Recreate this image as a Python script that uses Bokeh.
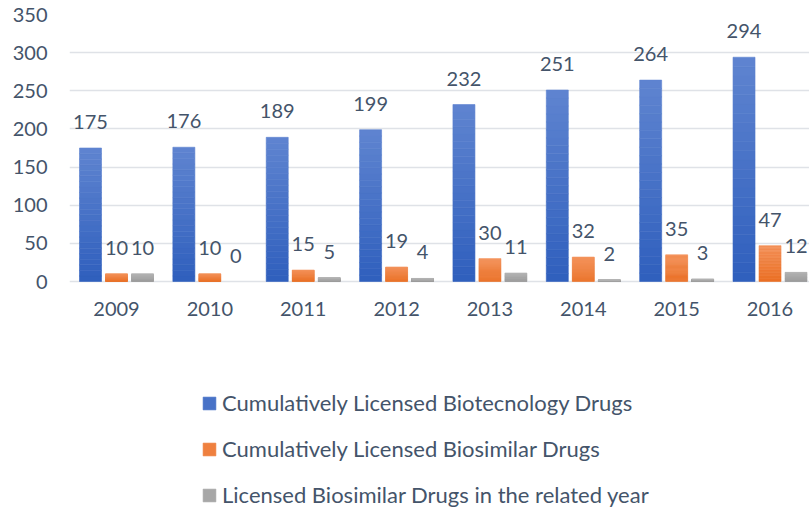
from bokeh.plotting import figure
from bokeh.models import Range1d, ColumnDataSource, Legend, LegendItem, FixedTicker
from bokeh.embed import file_html
from bokeh.resources import INLINE

years = ["2009", "2010", "2011", "2012", "2013", "2014", "2015", "2016"]
biotech_cum = [175, 176, 189, 199, 232, 251, 264, 294]
biosimilar_cum = [10, 10, 15, 19, 30, 32, 35, 47]
biosimilar_year = [10, 0, 5, 4, 11, 2, 3, 12]
series_names = [
    "Cumulatively Licensed Biotecnology Drugs",
    "Cumulatively Licensed Biosimilar Drugs",
    "Licensed Biosimilar Drugs in the related year",
]
y_ticks = [0, 50, 100, 150, 200, 250, 300, 350]

# style
FONT = "Lato"
FS = "20px"
LFS = "22px"
TXT = "#44546A"
# (bottom colour, top colour) for a vertical gradient
grads = [("#2F5FBD", "#5F84D0"), ("#EA6F24", "#F39057"), ("#9C9C9C", "#B2B2B2")]
PX = 93.36                     # pixels per category
offsets = [-26 / PX, 0.0, 26 / PX]
bar_w = 22 / PX
N_SEG = 24
X0 = -47 / PX
UNIT = 350 / 267               # data units per pixel
Y0 = -228 * UNIT               # frame continues below the zero line to hold the legend


def hex2rgb(h):
    h = h.lstrip("#")
    return tuple(int(h[i:i + 2], 16) for i in (0, 2, 4))


def mix(c0, c1, t):
    a, b = hex2rgb(c0), hex2rgb(c1)
    return "#%02x%02x%02x" % tuple(round(a[k] + (b[k] - a[k]) * t) for k in range(3))


p = figure(frame_width=740, frame_height=495, output_backend="svg", toolbar_location=None,
           x_range=Range1d(X0, X0 + 740 / PX), y_range=Range1d(Y0, 350),
           min_border_left=69, min_border_right=0, min_border_top=14, min_border_bottom=0)
p.outline_line_color = None
p.background_fill_color = "white"

series = [biotech_cum, biosimilar_cum, biosimilar_year]
renderers = []
for s, vals in enumerate(series):
    xs, bots, tops, cols = [], [], [], []
    for i, v in enumerate(vals):
        if v <= 0:
            continue
        for k in range(N_SEG):
            xs.append(i + offsets[s])
            bots.append(v * k / N_SEG)
            tops.append(v * (k + 1) / N_SEG)
            cols.append(mix(grads[s][0], grads[s][1], (k + 0.5) / N_SEG))
    src = ColumnDataSource(dict(x=xs, bottom=bots, top=tops, color=cols))
    r = p.vbar(x="x", bottom="bottom", top="top", width=bar_w, source=src,
               fill_color="color", line_color="color", line_width=0.6)
    renderers.append(r)
    lab = ColumnDataSource(dict(x=[i + offsets[s] for i in range(len(vals))], y=vals,
                                t=[str(v) for v in vals]))
    p.text(x="x", y="y", text="t", source=lab, text_align="center", text_baseline="alphabetic",
           y_offset=-26, text_font_size=FS, text_color=TXT, text_font={"value": FONT})

p.xgrid.grid_line_color = None
p.ygrid.grid_line_color = "#DFE2E7"
p.ygrid.grid_line_width = 1.6
p.ygrid.ticker = FixedTicker(ticks=y_ticks)

p.yaxis.ticker = FixedTicker(ticks=y_ticks)
p.xaxis.ticker = FixedTicker(ticks=list(range(len(years))))
p.xaxis.major_label_overrides = {i: y for i, y in enumerate(years)}
p.xaxis.fixed_location = 0
for ax in (p.xaxis[0], p.yaxis[0]):
    ax.axis_line_color = None
    ax.major_tick_line_color = None
    ax.minor_tick_line_color = None
    ax.major_tick_in = 0
    ax.major_tick_out = 0
    ax.minor_tick_out = 0
    ax.major_label_text_font = FONT
    ax.major_label_text_font_size = FS
    ax.major_label_text_color = TXT
p.yaxis.major_label_standoff = 22
p.xaxis.major_label_standoff = 20

mid = N_SEG // 2
items = [LegendItem(label=series_names[s], renderers=[renderers[s]], index=mid) for s in range(3)]
legend = Legend(items=items, location=(132, 1), orientation="vertical",
                border_line_color=None, background_fill_alpha=0,
                glyph_width=16, glyph_height=16, label_standoff=5,
                spacing=19, padding=0, margin=0,
                label_text_font=FONT, label_text_font_size=LFS, label_text_color=TXT)
p.add_layout(legend, "center")

open("out.html", "w").write(file_html(p, INLINE))
